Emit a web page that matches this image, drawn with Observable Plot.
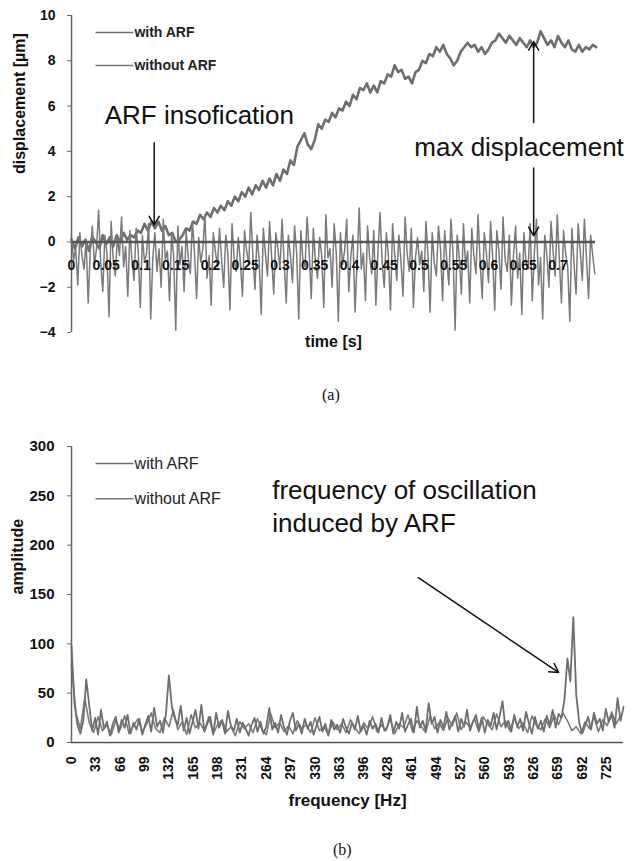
<!DOCTYPE html>
<html><head><meta charset="utf-8">
<script src="https://cdn.jsdelivr.net/npm/d3@7"></script>
<script src="https://cdn.jsdelivr.net/npm/@observablehq/plot@0.6"></script>
<style>
body{margin:0;background:#fff;width:638px;}
#a svg,#b svg{display:block;}
.cap{font-family:"Liberation Serif",serif;font-size:16px;color:#111;}
</style></head><body>
<div id="a"></div>
<div class="cap" style="height:30px;line-height:30px;padding-left:322px">(a)</div>
<div id="b"></div>
<div class="cap" style="height:23px;line-height:23px;padding-left:333px">(b)</div>
<script>
// ---------- Panel (a): displacement vs time ----------
const dtWith = 0.005;   // sampling step of "with ARF" trace [s]
const dtWithout = 0.003; // sampling step of "without ARF" trace [s]
const dispWithARF = [
0.1,-0.3,0.2,-0.2,0.1,-0.4,0.2,0.0,-0.3,0.3,-0.1,0.2,-0.2,0.3,0.0,0.4,0.1,0.3,0.2,0.5,
0.4,0.8,0.5,0.9,0.6,0.9,0.5,0.7,0.3,0.4,0.0,0.1,0.3,0.6,0.5,0.9,0.8,1.2,1.0,1.3,
1.1,1.5,1.3,1.6,1.4,1.8,1.6,2.0,1.8,2.2,2.0,2.4,2.1,2.5,2.3,2.7,2.4,2.8,2.5,3.0,
2.7,3.2,3.0,3.6,3.4,4.2,4.5,4.8,4.3,4.1,4.5,5.2,5.0,5.4,5.3,5.7,5.5,5.9,5.8,6.2,
6.0,6.5,6.3,6.8,6.7,7.0,6.6,6.9,6.6,7.1,7.0,7.4,7.3,7.8,7.5,7.6,7.2,7.3,7.0,7.5,
7.6,8.0,7.9,8.3,8.2,8.6,8.4,8.7,8.3,8.1,7.8,8.0,8.4,8.6,8.8,8.6,8.7,8.4,8.6,8.3,
8.5,8.8,8.9,9.2,9.0,8.8,9.1,8.9,8.7,9.0,8.8,8.6,8.9,8.6,8.8,9.3,9.0,8.7,8.9,8.6,
9.1,8.8,8.6,8.9,8.5,8.4,8.7,8.4,8.6,8.5,8.7,8.6
];
const dispWithoutARF = [
0.2,-0.8,-0.3,-1.9,0.4,-0.6,-1.2,0.1,-2.7,-0.4,0.7,-1.0,
-0.3,1.4,-0.9,-2.2,0.3,-0.5,-3.3,0.9,-0.7,-1.5,0.2,-0.6,
1.1,-1.1,-0.2,-2.4,0.5,-0.8,-1.7,0.6,-0.4,-2.9,0.3,-0.9,
-0.5,0.8,-3.4,-0.7,0.4,-1.3,-0.3,-2.0,1.0,-0.8,-0.4,-2.6,
0.3,-0.6,-3.9,0.7,-1.0,-0.2,-2.2,0.5,-0.7,-1.4,0.9,-0.5,
-2.5,0.2,-0.9,-0.3,1.2,-1.6,-0.6,-2.8,0.4,-0.4,-1.1,0.6,
-0.8,-2.0,0.3,-0.5,-3.0,0.8,-0.7,-1.3,0.2,-0.9,-2.4,0.5,
-0.4,-1.0,1.3,-0.6,-2.1,0.3,-0.8,-3.2,0.6,-0.5,-1.5,0.9,
-0.7,-2.3,0.4,-0.3,-1.2,1.0,-0.9,-2.7,0.3,-0.6,-1.8,0.7,
-0.5,-3.4,0.5,-0.8,-1.1,1.1,-0.4,-2.5,0.6,-0.9,-1.6,0.2,
-0.6,-2.9,1.2,-0.7,-0.3,-2.0,0.8,-0.5,-3.5,0.4,-1.0,-0.4,
1.0,-2.2,-0.6,0.3,-3.1,-0.8,1.5,-1.2,-0.5,-2.6,0.7,-0.7,
-1.4,0.5,-2.8,-0.4,1.3,-0.9,-2.0,0.4,-0.6,-3.0,0.8,-0.5,
-1.7,0.3,-0.8,-2.4,1.1,-0.5,-1.3,0.6,-2.9,-0.7,0.2,-1.0,
-0.4,-2.2,0.9,-0.6,-3.1,0.4,-0.9,-1.5,0.7,-0.3,-2.6,0.5,
-0.8,-1.9,1.0,-0.5,-3.9,0.3,-0.7,-2.3,0.8,-1.1,-0.4,-2.7,
0.6,-0.6,-1.4,1.2,-0.9,-2.5,0.4,-0.5,-1.8,0.9,-0.7,-3.0,
0.5,-0.4,-2.1,1.1,-0.8,-1.3,0.3,-2.8,-0.6,0.7,-1.6,-0.5,
-3.2,0.4,-0.9,-1.2,0.8,-2.6,-0.5,1.0,-1.9,-0.7,-3.4,0.3,
-0.6,-2.0,0.9,-0.4,-1.5,1.2,-0.8,-2.7,0.5,-0.5,-1.1,-3.5,
0.6,-0.9,-2.3,0.8,-0.4,-1.7,1.0,-0.7,-2.5,0.3,-0.6,-1.4
];
const timeTicks = [0,0.05,0.1,0.15,0.2,0.25,0.3,0.35,0.4,0.45,0.5,0.55,0.6,0.65,0.7];
const timeTickLabels = ["0","0.05","0.1","0.15","0.2","0.25","0.3","0.35","0.4","0.45","0.5","0.55","0.6","0.65","0.7"];
const dispTicks = [-4,-2,0,2,4,6,8,10];
const legendA = [
  {x1:0.0345, x2:0.089, tx:0.0905, y:9.25, label:"with ARF"},
  {x1:0.0345, x2:0.089, tx:0.0905, y:7.79, label:"without ARF"}
];
const notesA = [
  {x:0.184, y:5.58, label:"ARF insofication"},
  {x:0.644, y:4.16, label:"max displacement"}
];
const arrowsA = [
  {x1:0.119, y1:4.38, x2:0.119, y2:0.75},
  {x1:0.665, y1:5.27, x2:0.665, y2:8.85},
  {x1:0.665, y1:3.27, x2:0.665, y2:0.27}
];

// ---------- Panel (b): spectrum ----------
const dfWith = 4;    // frequency step of "with ARF" spectrum [Hz]
const dfWithout = 6; // frequency step of "without ARF" spectrum [Hz]
const ampWithARF = [
98,40,18,9,22,64,38,12,25,8,
33,14,21,7,19,26,10,23,15,28,
9,20,13,24,8,18,27,11,35,16,
22,10,29,68,36,24,18,37,12,25,
9,21,33,14,38,11,19,26,8,30,
15,22,9,32,17,12,24,10,20,14,
7,18,25,11,21,9,16,35,13,20,
10,28,15,8,22,30,12,19,9,24,
14,21,8,17,26,11,19,7,23,13,
18,10,24,15,9,20,13,27,11,17,
8,22,14,19,10,25,12,16,28,9,
21,14,30,11,18,24,10,36,15,22,
12,40,19,26,10,23,15,31,13,20,
27,11,24,16,33,12,21,28,14,25,
10,23,17,30,13,26,42,15,22,11,
28,16,24,12,31,19,9,26,14,22,
11,27,18,33,15,29,25,44,85,62,
127,48,20,9,17,26,13,30,19,24,
12,34,21,28,15,45,22,36
];
const ampWithoutARF = [
80,30,14,45,20,10,26,12,18,8,
22,13,27,9,17,24,11,19,30,14,
10,25,16,33,13,21,8,28,15,20,
12,26,9,18,23,11,16,7,21,14,
19,10,24,13,8,29,15,20,11,17,
9,22,14,18,10,25,12,16,8,21,
13,19,10,23,15,9,20,14,26,11,
18,12,24,9,19,15,28,11,22,16,
10,27,14,20,12,25,17,30,13,21,
15,24,11,26,19,13,29,16,22,12,
25,14,20,10,27,17,13,24,15,28,
18,30,22,12,16,9,21,14,26,11,
23,17,31,19,27
];
const freqTicks = [0,33,66,99,132,165,198,231,264,297,330,363,396,428,461,494,527,560,593,626,659,692,725];
const ampTicks = [0,50,100,150,200,250,300];
const legendB = [
  {x1:32.5, x2:84, tx:85.5, y:282.7, label:"with ARF"},
  {x1:32.5, x2:84, tx:85.5, y:247, label:"without ARF"}
];
const notesB = [
  {x:272, y:255, label:"frequency of oscillation"},
  {x:272, y:222, label:"induced by ARF"}
];
const arrowsB = [{x1:470, y1:167, x2:660, y2:71}];

const FONT = "Liberation Sans, Arial, sans-serif";
const cWith = "#6e6e6e", cWithout = "#7a7a7a", ink = "#111";

const plotA = Plot.plot({
  width: 638, height: 380,
  marginLeft: 71, marginRight: 43, marginTop: 15, marginBottom: 48,
  style: {fontFamily: FONT, fontSize: "13px", color: ink, background: "#fff"},
  x: {domain: [0, 0.754], axis: null},
  y: {domain: [-4, 10], axis: null},
  marks: [
    Plot.line(dispWithARF, {x: (d, i) => i * dtWith, y: d => d, stroke: cWith, strokeWidth: 2.6}),
    Plot.line(dispWithoutARF, {x: (d, i) => i * dtWithout, y: d => d, stroke: cWithout, strokeWidth: 1.5}),
    Plot.ruleY([0], {stroke: "#555", strokeWidth: 2.5}),
    Plot.ruleX([0], {stroke: "#666", strokeWidth: 1.5}),
    Plot.axisY({ticks: dispTicks, tickSize: 4, tickPadding: 12, fontWeight: "bold", fontSize: 14, label: null, stroke: "#666"}),
    Plot.text(timeTicks, {x: d => d, y: 0, dy: 24, text: (d, i) => timeTickLabels[i], fontWeight: "bold", fontSize: 14, fill: ink}),
    Plot.text(["displacement [µm]"], {frameAnchor: "left", dx: -52, rotate: -90, fontWeight: "bold", fontSize: 16, fill: ink}),
    Plot.text(["time [s]"], {frameAnchor: "bottom", dy: 14, dx: 0, fontWeight: "bold", fontSize: 16, fill: ink}),
    Plot.link(legendA.slice(0, 1), {x1: "x1", x2: "x2", y1: "y", y2: "y", stroke: cWith, strokeWidth: 1.5}),
    Plot.link(legendA.slice(1), {x1: "x1", x2: "x2", y1: "y", y2: "y", stroke: cWithout, strokeWidth: 1.5}),
    Plot.text(legendA, {x: "tx", y: "y", text: "label", textAnchor: "start", fontSize: 14, fontWeight: "bold", fill: "#222"}),
    Plot.text(notesA, {x: "x", y: "y", text: "label", fontSize: 26, fill: ink}),
    Plot.arrow(arrowsA, {x1: "x1", y1: "y1", x2: "x2", y2: "y2", stroke: ink, strokeWidth: 1.5, headLength: 10, bend: 0})
  ]
});
document.getElementById("a").append(plotA);

const plotB = Plot.plot({
  width: 638, height: 428,
  marginLeft: 71, marginRight: 15, marginTop: 36, marginBottom: 96,
  style: {fontFamily: FONT, fontSize: "13px", color: ink, background: "#fff"},
  x: {domain: [0, 748]},
  y: {domain: [0, 300]},
  marks: [
    Plot.line(ampWithoutARF, {x: (d, i) => i * dfWithout, y: d => d, stroke: cWithout, strokeWidth: 1.6}),
    Plot.line(ampWithARF, {x: (d, i) => i * dfWith, y: d => d, stroke: cWith, strokeWidth: 1.8}),
    Plot.ruleY([0], {stroke: "#555", strokeWidth: 1.5}),
    Plot.ruleX([0], {stroke: "#666", strokeWidth: 1.5}),
    Plot.axisY({ticks: ampTicks, tickSize: 4, tickPadding: 13, fontWeight: "bold", fontSize: 15, label: null, stroke: "#666"}),
    Plot.axisX({ticks: freqTicks, tickFormat: d => String(d), tickRotate: -90, tickSize: 0, tickPadding: 14, fontWeight: "bold", fontSize: 14, label: null}),
    Plot.text(["amplitude"], {frameAnchor: "left", dx: -54, rotate: -90, fontWeight: "bold", fontSize: 16, fill: ink}),
    Plot.text(["frequency [Hz]"], {frameAnchor: "bottom", dy: 63, fontWeight: "bold", fontSize: 17, fill: ink}),
    Plot.link(legendB.slice(0, 1), {x1: "x1", x2: "x2", y1: "y", y2: "y", stroke: cWith, strokeWidth: 1.5}),
    Plot.link(legendB.slice(1), {x1: "x1", x2: "x2", y1: "y", y2: "y", stroke: cWithout, strokeWidth: 1.5}),
    Plot.text(legendB, {x: "tx", y: "y", text: "label", textAnchor: "start", fontSize: 16, fill: "#222"}),
    Plot.text(notesB, {x: "x", y: "y", text: "label", textAnchor: "start", fontSize: 26, fill: ink}),
    Plot.arrow(arrowsB, {x1: "x1", y1: "y1", x2: "x2", y2: "y2", stroke: ink, strokeWidth: 1.5, headLength: 10, bend: 0})
  ]
});
document.getElementById("b").append(plotB);
</script>
</body></html>
